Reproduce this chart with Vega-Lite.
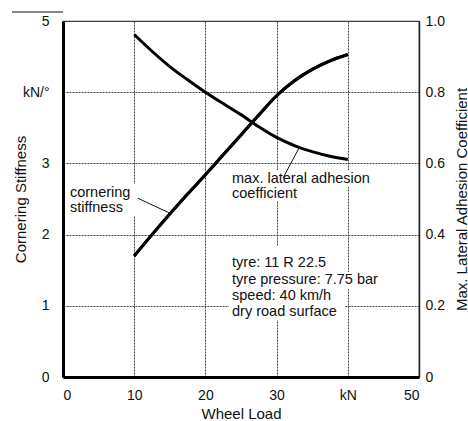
{
  "$schema": "https://vega.github.io/schema/vega-lite/v6.json",
  "width": 356,
  "height": 356,
  "autosize": {"type": "none"},
  "padding": {"left": 63, "top": 21, "right": 49, "bottom": 44},
  "config": {
    "font": "Liberation Sans",
    "view": {"stroke": "#333", "strokeWidth": 1.2},
    "axis": {
      "labelFont": "Liberation Sans",
      "labelFontSize": 14,
      "labelColor": "#111",
      "titleFont": "Liberation Sans",
      "titleFontSize": 15,
      "titleFontWeight": "normal",
      "titleColor": "#111",
      "ticks": false,
      "gridColor": "#444",
      "gridDash": [2, 1],
      "gridWidth": 1,
      "gridOpacity": 1
    }
  },
  "datasets": {
    "stiffness": [
      {"load": 10, "stiffness": 1.70},
      {"load": 12.5, "stiffness": 2.00},
      {"load": 15, "stiffness": 2.29},
      {"load": 17.5, "stiffness": 2.57},
      {"load": 20, "stiffness": 2.84},
      {"load": 22.5, "stiffness": 3.12},
      {"load": 25, "stiffness": 3.40},
      {"load": 27.5, "stiffness": 3.68},
      {"load": 30, "stiffness": 3.95},
      {"load": 32.5, "stiffness": 4.16},
      {"load": 35, "stiffness": 4.32},
      {"load": 37.5, "stiffness": 4.44},
      {"load": 40, "stiffness": 4.53}
    ],
    "adhesion": [
      {"load": 10, "adhesion": 0.962},
      {"load": 12.5, "adhesion": 0.915},
      {"load": 15, "adhesion": 0.872},
      {"load": 17.5, "adhesion": 0.835},
      {"load": 20, "adhesion": 0.800},
      {"load": 22.5, "adhesion": 0.768},
      {"load": 25, "adhesion": 0.737},
      {"load": 27.5, "adhesion": 0.703},
      {"load": 30, "adhesion": 0.673},
      {"load": 32.5, "adhesion": 0.650},
      {"load": 35, "adhesion": 0.633},
      {"load": 37.5, "adhesion": 0.620},
      {"load": 40, "adhesion": 0.611}
    ],
    "labels": [
      {"text": "cornering", "load": 0.98, "level": 2.584},
      {"text": "stiffness", "load": 0.98, "level": 2.374},
      {"text": "max. lateral adhesion", "load": 23.74, "level": 2.781},
      {"text": "coefficient", "load": 23.74, "level": 2.570},
      {"text": "tyre: 11 R 22.5", "load": 23.74, "level": 1.601},
      {"text": "tyre pressure: 7.75 bar", "load": 23.74, "level": 1.362},
      {"text": "speed: 40 km/h", "load": 23.74, "level": 1.138},
      {"text": "dry road surface", "load": 23.74, "level": 0.913}
    ],
    "leaders": [
      {"load": 10.53, "level": 2.51, "load2": 15.03, "level2": 2.30},
      {"load": 30.9, "level": 2.795, "load2": 33.15, "level2": 3.216},
      {"load": -7.16, "level": 5.126, "load2": 0, "level2": 5.126}
    ],
    "boxes": [
      {"load": 0.70, "load2": 10.39, "level": 2.711, "level2": 2.261},
      {"load": 23.46, "load2": 44.24, "level": 2.907, "level2": 2.669},
      {"load": 23.46, "load2": 33.85, "level": 2.669, "level2": 2.472},
      {"load": 23.31, "load2": 39.61, "level": 1.84, "level2": 0.80},
      {"load": 23.31, "load2": 44.52, "level": 1.475, "level2": 1.236}
    ]
  },
  "encoding": {
    "x": {
      "field": "load", "type": "quantitative",
      "scale": {"domain": [0, 50], "nice": false},
      "axis": {
        "values": [0, 10, 20, 30, 40, 50],
        "labelExpr": "datum.value == 40 ? 'kN' : datum.label",
        "title": "Wheel Load",
        "grid": true,
        "domainWidth": 3,
        "domainColor": "#000",
        "labelPadding": 11,
        "titleY": 36,
        "titleBaseline": "middle"
      }
    }
  },
  "layer": [
    {
      "data": {"name": "stiffness"},
      "mark": {"type": "line", "color": "#000", "strokeWidth": 3, "interpolate": "monotone"},
      "encoding": {
        "y": {
          "field": "stiffness", "type": "quantitative",
          "scale": {"domain": [0, 5], "nice": false},
          "axis": {
            "values": [0, 1, 2, 3, 4, 5],
            "labelExpr": "datum.value == 4 ? 'kN/°' : datum.label",
            "title": "Cornering Stiffness",
            "grid": true,
            "domainWidth": 3,
            "domainColor": "#000",
            "labelPadding": 14,
            "titleX": -43,
            "titleY": 178,
            "titleAngle": 270,
            "titleAlign": "center",
            "titleBaseline": "middle"
          }
        }
      }
    },
    {
      "data": {"name": "boxes"},
      "mark": {"type": "rect", "fill": "white", "strokeWidth": 0},
      "encoding": {
        "x2": {"field": "load2"},
        "y": {"field": "level", "type": "quantitative", "scale": {"domain": [0, 5], "nice": false}, "axis": null},
        "y2": {"field": "level2"}
      }
    },
    {
      "data": {"name": "stiffness"},
      "mark": {"type": "line", "color": "#000", "strokeWidth": 3, "interpolate": "monotone"},
      "encoding": {
        "y": {"field": "stiffness", "type": "quantitative", "scale": {"domain": [0, 5], "nice": false}, "axis": null}
      }
    },
    {
      "data": {"name": "leaders"},
      "mark": {"type": "rule", "color": "#111", "strokeWidth": 1},
      "encoding": {
        "x2": {"field": "load2"},
        "y": {"field": "level", "type": "quantitative", "scale": {"domain": [0, 5], "nice": false}, "axis": null},
        "y2": {"field": "level2"}
      }
    },
    {
      "data": {"name": "labels"},
      "mark": {"type": "text", "align": "left", "baseline": "middle", "fontSize": 14.5, "font": "Liberation Sans", "color": "#111"},
      "encoding": {
        "y": {"field": "level", "type": "quantitative", "scale": {"domain": [0, 5], "nice": false}, "axis": null},
        "text": {"field": "text"}
      }
    },
    {
      "data": {"name": "adhesion"},
      "mark": {"type": "line", "color": "#000", "strokeWidth": 3, "interpolate": "monotone"},
      "encoding": {
        "y": {
          "field": "adhesion", "type": "quantitative",
          "scale": {"domain": [0, 1], "nice": false},
          "axis": {
            "orient": "right",
            "values": [0, 0.2, 0.4, 0.6, 0.8, 1],
            "labelExpr": "datum.value == 0 ? '0' : format(datum.value, '.1f')",
            "title": "Max. Lateral Adhesion Coefficient",
            "grid": false,
            "domainWidth": 1.5,
            "domainColor": "#222",
            "labelPadding": 6,
            "titleX": 42,
            "titleY": 178,
            "titleAngle": 270,
            "titleAlign": "center",
            "titleBaseline": "middle"
          }
        }
      }
    }
  ],
  "resolve": {"scale": {"y": "independent"}}
}
